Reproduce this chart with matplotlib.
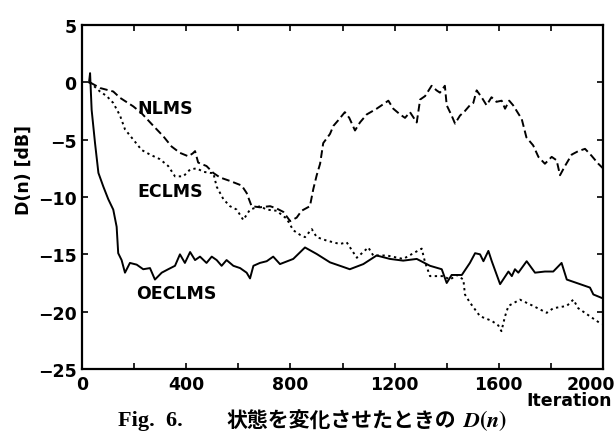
import matplotlib
matplotlib.use("Agg")
import matplotlib.pyplot as plt
import matplotlib.transforms as mtransforms
from matplotlib.ticker import MultipleLocator

# ---- data ----
nlms_x = [30, 70, 120, 146, 197, 229, 274, 312, 344, 376, 408, 425, 434, 446, 478, 504, 530, 568,
          613, 632, 651, 683, 722, 747, 773, 799, 824, 843, 875, 888, 901, 914, 926, 952, 965, 984,
          1009, 1026, 1048, 1067, 1093, 1131, 1157, 1176, 1195, 1221, 1240, 1259, 1285, 1298, 1317,
          1342, 1361, 1374, 1393, 1400, 1419, 1432, 1451, 1470, 1489, 1502, 1515, 1534, 1553, 1572,
          1591, 1611, 1624, 1640, 1655, 1688, 1706, 1732, 1752, 1777, 1803, 1822, 1835, 1854, 1880,
          1905, 1931, 1956, 1982, 2000]
nlms_y = [0, -0.5, -0.8, -1.35, -2.1, -2.7, -3.8, -4.7, -5.6, -6.15, -6.45, -6.2, -6.0, -7.0, -7.3,
          -7.9, -8.3, -8.6, -9.0, -9.65, -10.8, -10.9, -10.8, -11.0, -11.3, -12.1, -11.8, -11.2,
          -10.8, -9.3, -8.1, -7.1, -5.3, -4.5, -3.8, -3.3, -2.6, -3.1, -4.2, -3.5, -2.8, -2.3, -1.9,
          -1.6, -2.3, -2.8, -3.1, -2.6, -3.5, -1.5, -1.2, -0.3, -0.7, -0.9, -0.3, -2.0, -2.9, -3.6,
          -2.9, -2.5, -2.0, -1.8, -0.7, -1.3, -2.0, -1.3, -1.7, -1.6, -2.3, -1.6, -2.0, -3.2, -4.8,
          -5.5, -6.5, -7.1, -6.5, -6.8, -8.1, -7.3, -6.3, -6.0, -5.8, -6.4, -7.1, -7.5]

eclms_x = [30, 69, 95, 120, 146, 165, 197, 229, 261, 299, 331, 357, 389, 415, 440, 466, 491, 504,
           517, 543, 568, 594, 619, 645, 683, 709, 747, 786, 811, 837, 856, 882, 901, 939, 990,
           1016, 1055, 1099, 1118, 1170, 1233, 1304, 1317, 1336, 1387, 1413, 1438, 1464, 1470,
           1489, 1528, 1573, 1598, 1610, 1624, 1637, 1681, 1732, 1784, 1809, 1861, 1886, 1905,
           1956, 1995]
eclms_y = [0, -0.8, -1.2, -1.8, -2.9, -4.1, -5.0, -5.9, -6.3, -6.7, -7.3, -8.2, -8.2, -7.6, -7.5,
           -7.8, -7.9, -7.9, -9.1, -10.2, -10.8, -11.1, -12.0, -11.1, -10.8, -11.1, -11.2, -11.9,
           -12.9, -13.3, -13.5, -12.8, -13.5, -13.8, -14.1, -13.95, -15.3, -14.4, -15.1, -15.1,
           -15.4, -14.5, -15.7, -16.9, -16.9, -17.2, -16.8, -17.2, -18.5, -19.2, -20.4, -20.8,
           -21.2, -21.7, -20.4, -19.5, -18.95, -19.5, -20.1, -19.7, -19.5, -18.95, -19.7, -20.5,
           -21.1]

oeclms_x = [27, 31, 37, 50, 63, 82, 101, 120, 133, 139, 152, 165, 184, 210, 235, 261, 280, 306,
            331, 357, 376, 395, 415, 434, 453, 478, 498, 517, 536, 555, 581, 607, 632, 645, 658,
            683, 709, 734, 760, 811, 856, 901, 952, 1003, 1028, 1080, 1131, 1182, 1233, 1285,
            1336, 1381, 1400, 1419, 1458, 1489, 1509, 1528, 1541, 1560, 1573, 1605, 1637, 1650,
            1662, 1675, 1707, 1739, 1777, 1809, 1841, 1861, 1912, 1950, 1963, 1995]
oeclms_y = [0, 0.8, -2.4, -5.3, -7.9, -9.1, -10.2, -11.1, -12.6, -14.9, -15.5, -16.6, -15.75,
            -15.9, -16.3, -16.2, -17.2, -16.6, -16.3, -16.0, -15.0, -15.75, -14.8, -15.5, -15.2,
            -15.75, -15.2, -15.5, -16.0, -15.5, -16.0, -16.2, -16.6, -17.1, -16.0, -15.75, -15.6,
            -15.2, -15.85, -15.4, -14.4, -14.97, -15.7, -16.1, -16.3, -15.85, -15.1, -15.4,
            -15.55, -15.4, -16.0, -16.3, -17.5, -16.8, -16.8, -15.75, -14.9, -15.0, -15.6, -14.7,
            -15.6, -17.6, -16.5, -16.9, -16.3, -16.6, -15.6, -16.6, -16.5, -16.5, -15.75, -17.2,
            -17.6, -17.9, -18.5, -18.8]

series_labels = ["NLMS", "ECLMS", "OECLMS"]
label_pos = [(211, -2.2), (211, -9.5), (208, -18.4)]
x_ticks = [0, 400, 800, 1200, 1600, 2000]
y_ticks = [5, 0, -5, -10, -15, -20, -25]

plt.rcParams['font.family'] = ['DejaVu Sans']
plt.rcParams['font.weight'] = 'bold'
plt.rcParams['mathtext.fontset'] = 'stix'
FS = 12.5
fig = plt.figure(figsize=(6.15, 4.35), dpi=100)
ax = fig.add_axes([82/615, 1-370/435, 521/615, 344/435])

ax.plot(nlms_x, nlms_y, color='black', lw=1.4, ls=(0, (4, 2)))
ax.plot(eclms_x, eclms_y, color='black', lw=1.4, ls=(0, (1.2, 1.8)))
ax.plot(oeclms_x, oeclms_y, color='black', lw=1.4, ls='-')

for lab, (lx, ly) in zip(series_labels, label_pos):
    ax.text(lx, ly, lab, fontsize=FS, ha='left', va='center', fontweight='bold')

ax.set_xlim(0, 2000)
ax.set_ylim(-25, 5)
ax.set_xticks(x_ticks)
ax.xaxis.set_minor_locator(MultipleLocator(200))
ax.set_yticks(y_ticks)
ax.tick_params(which='both', direction='in', top=True, right=True, labelsize=FS, pad=4)
ax.tick_params(which='major', length=4, width=1.2)
ax.tick_params(which='minor', length=4, width=1.2)
for s in ax.spines.values():
    s.set_linewidth(1.6)

# last x tick label sits a little to the left, as in the reference
fig.canvas.draw()
last = ax.get_xticklabels()[-1]
last.set_transform(last.get_transform() +
                   mtransforms.ScaledTranslation(-12/100, 0, fig.dpi_scale_trans))

ax.set_ylabel("D(n) [dB]", fontsize=FS, fontweight='bold')
ax.yaxis.set_label_coords(-0.095, 0.58)

fig.text(612/615, 1-401/435, "Iteration", fontsize=FS, ha='right', va='center',
         fontweight='bold')

# caption, in three pieces (serif, Japanese, math)
cap_y = 1 - 421/435
fig.text(118/615, cap_y, "Fig.  6.", fontsize=16, ha='left', va='center',
         family=['Liberation Serif'], fontweight='bold')
fig.text(226/615, cap_y, "状態を変化させたときの", fontsize=15, ha='left', va='center',
         family=['Noto Sans CJK JP'], fontweight='bold')
fig.text(462/615, cap_y, "$D(n)$", fontsize=16, ha='left', va='center')

fig.savefig("out.png", dpi=100)
